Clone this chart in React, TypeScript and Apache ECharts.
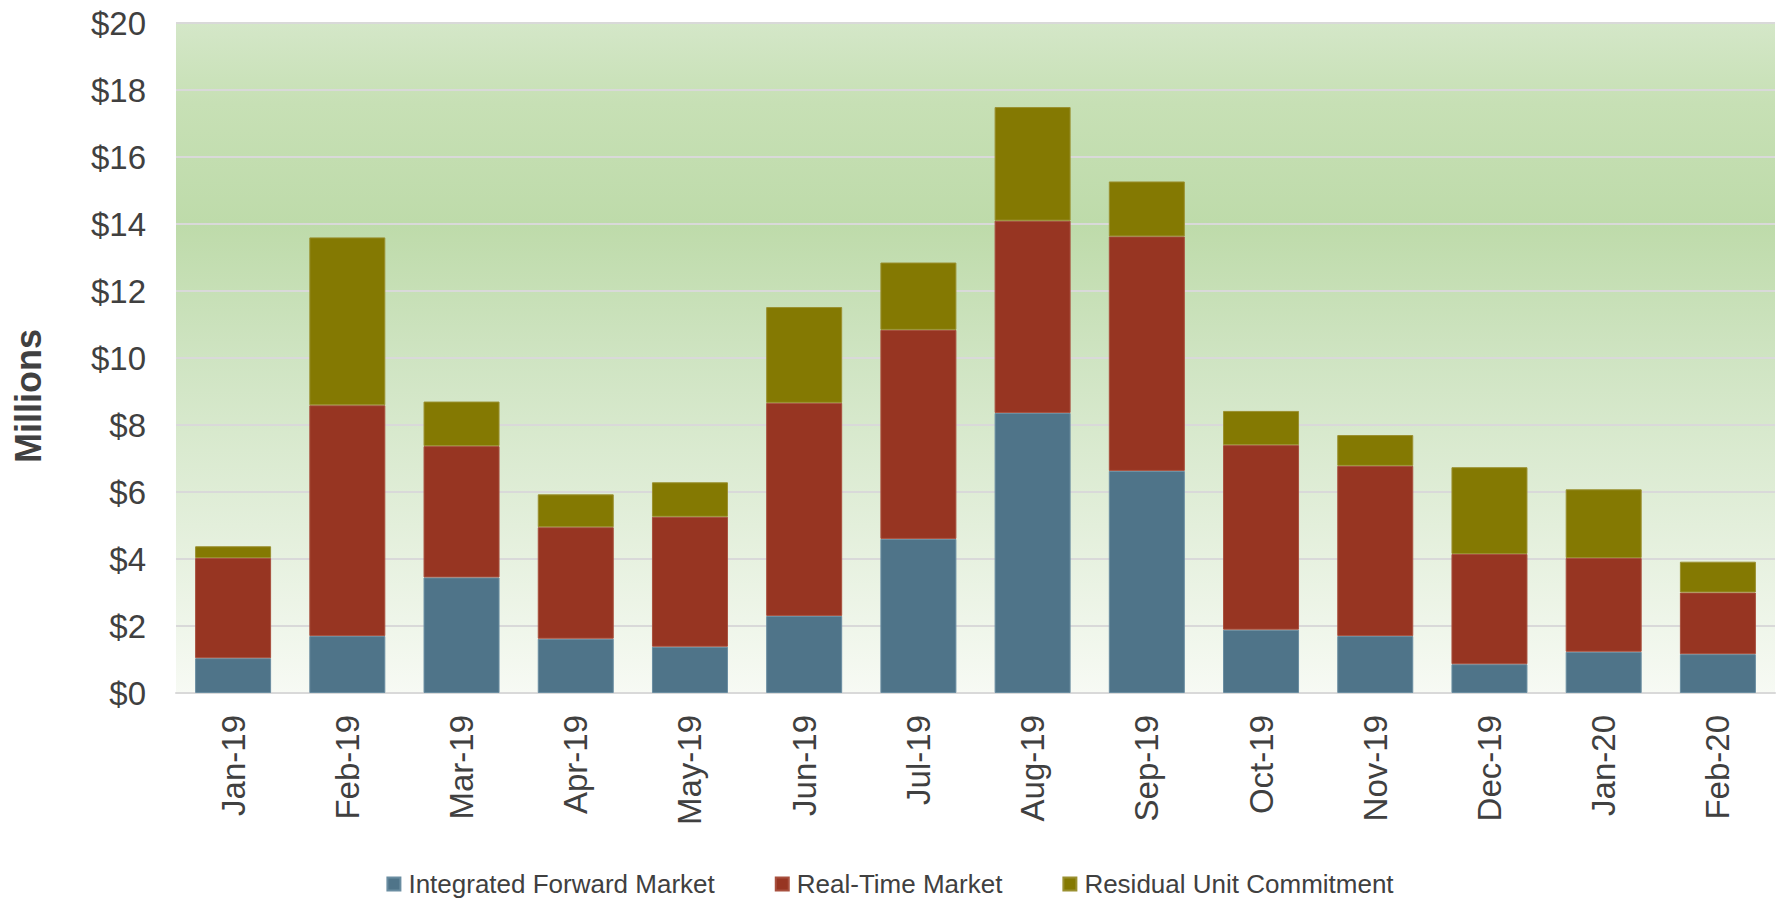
import React, { useEffect, useRef } from "react";
import * as echarts from "echarts";

const categories = ["Jan-19", "Feb-19", "Mar-19", "Apr-19", "May-19", "Jun-19", "Jul-19", "Aug-19", "Sep-19", "Oct-19", "Nov-19", "Dec-19", "Jan-20", "Feb-20"];
const integratedForward = [1.04, 1.70, 3.45, 1.62, 1.38, 2.30, 4.60, 8.36, 6.63, 1.89, 1.70, 0.86, 1.23, 1.16];
const realTime = [2.99, 6.89, 3.92, 3.33, 3.88, 6.36, 6.24, 5.74, 7.00, 5.51, 5.08, 3.29, 2.80, 1.84];
const residualUnit = [0.35, 5.01, 1.33, 0.98, 1.03, 2.86, 2.01, 3.39, 1.64, 1.02, 0.92, 2.59, 2.05, 0.92];
const seriesNames = ["Integrated Forward Market", "Real-Time Market", "Residual Unit Commitment"];
const colors = ["#4F7489", "#973522", "#847902"];
const borderColors = ["#6A8DA1", "#A8503E", "#9A9030"];
const yMin = 0;
const yMax = 20;
const yInterval = 2;
const yAxisTitle = "Millions";

const FONT = "'Liberation Sans', Arial, sans-serif";
const TEXT = "#404040";

export default function App() {
  const ref = useRef<HTMLDivElement>(null);
  useEffect(() => {
    document.body.style.margin = "0";
    if (!ref.current) return;
    const chart = echarts.init(ref.current, undefined, { renderer: "svg" });
    const data = [integratedForward, realTime, residualUnit];
    chart.setOption({
      animation: false,
      textStyle: { fontFamily: FONT },
      grid: {
        left: 176,
        right: 5,
        top: 23,
        bottom: 211,
        show: true,
        borderWidth: 0,
        backgroundColor: new echarts.graphic.LinearGradient(0, 0, 0, 1, [
          { offset: 0, color: "#D4E7C8" },
          { offset: 0.12, color: "#C7E0B5" },
          { offset: 0.3, color: "#BEDBAA" },
          { offset: 0.5, color: "#CFE4C2" },
          { offset: 0.75, color: "#E3EFDB" },
          { offset: 1, color: "#F7FAF4" },
        ]),
      },
      graphic: [
        {
          type: "text",
          x: 28,
          y: 396,
          rotation: Math.PI / 2,
          style: {
            text: yAxisTitle,
            fontSize: 36,
            fontWeight: "bold",
            fontFamily: FONT,
            fill: TEXT,
            textAlign: "center",
            textVerticalAlign: "middle",
          },
        },
      ],
      legend: {
        left: "center",
        top: 866,
        icon: "rect",
        itemWidth: 13,
        itemHeight: 13,
        itemGap: 60,
        textStyle: { fontSize: 26, lineHeight: 26, color: TEXT, fontFamily: FONT, padding: [0, 0, 0, 3] },
        data: seriesNames,
      },
      xAxis: {
        type: "category",
        data: categories,
        axisLine: { show: true, lineStyle: { color: "#D9D9D9", width: 2 } },
        axisTick: { show: false },
        axisLabel: { rotate: 90, margin: 22, fontSize: 33, color: TEXT, fontFamily: FONT },
      },
      yAxis: {
        type: "value",
        min: yMin,
        max: yMax,
        interval: yInterval,
        axisLine: { show: false },
        axisTick: { show: false },
        axisLabel: { margin: 30, fontSize: 33, color: TEXT, fontFamily: FONT, formatter: (v: number) => "$" + v },
        splitLine: { show: true, lineStyle: { color: "#D9D9D9", width: 2 } },
      },
      series: seriesNames.map((name, i) => ({
        name,
        type: "bar",
        stack: "total",
        barWidth: 76,
        data: data[i],
        itemStyle: { color: colors[i], borderColor: borderColors[i], borderWidth: 1 },
      })),
    });
    return () => chart.dispose();
  }, []);
  return <div ref={ref} style={{ width: 1780, height: 904 }} />;
}
